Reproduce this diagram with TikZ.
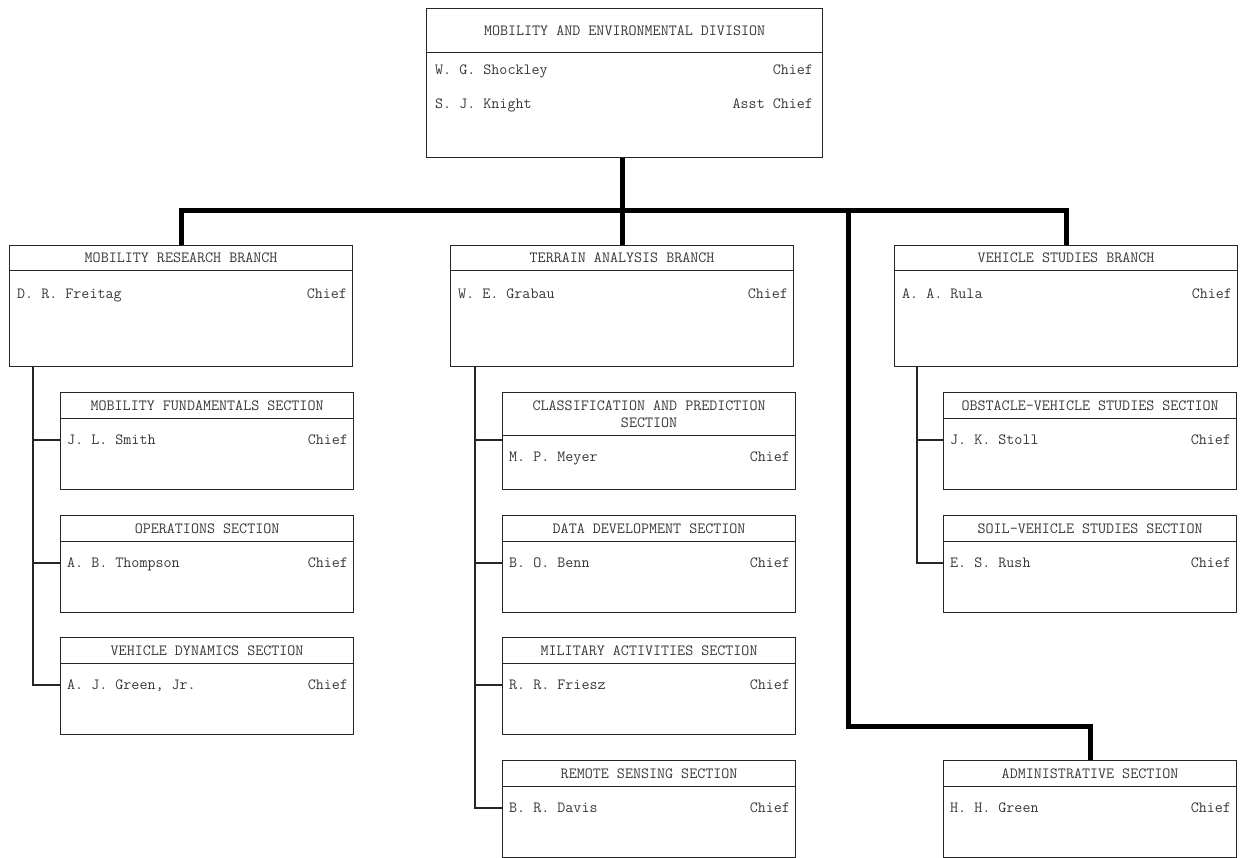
\documentclass[tikz,border=0pt]{standalone}
\usepackage{tikz}
\usetikzlibrary{positioning, calc}

\begin{document}
\begin{tikzpicture}[
  x=1pt, y=-1pt,
  every node/.style={font=\ttfamily\fontsize{15.6}{17}\selectfont, text=black!78},
  frame/.style  ={rectangle, draw=black!85, line width=1.2pt, anchor=north west, inner sep=0pt},
  division/.style={frame, minimum width=396pt, minimum height=149pt},
  branch/.style ={frame, minimum width=343pt, minimum height=121pt},
  section/.style={frame, minimum width=293pt, minimum height=97pt},
  head/.style   ={frame, align=center},
  who/.style    ={anchor=west, inner sep=0pt, text height=9.5pt, text depth=0pt},
  title/.style  ={anchor=east, inner sep=0pt, text height=9.5pt, text depth=0pt},
  link/.style   ={draw=black!85, line width=1.2pt},
  trunk/.style  ={draw=black, line width=5pt, line join=miter}
]
\useasboundingbox (0,0) rectangle (1242,858);

% division
\node[division] (div) at (426,8) {};
\node[head, minimum width=396pt, minimum height=44pt] (div-h) at (div.north west)
  {MOBILITY AND ENVIRONMENTAL DIVISION};
\node[who]   (div-p1) at ([xshift=9pt, yshift=-62pt]div.north west)  {W. G. Shockley};
\node[title] (div-r1) at ([xshift=-10pt,yshift=-62pt]div.north east) {Chief};
\node[who]   (div-p2) at ([xshift=9pt, yshift=-96pt]div.north west)  {S. J. Knight};
\node[title] (div-r2) at ([xshift=-10pt,yshift=-96pt]div.north east) {Asst Chief};

% branches
\foreach \id/\x/\t/\p in {mrb/9/MOBILITY RESEARCH BRANCH/D. R. Freitag,
                          tab/450/TERRAIN ANALYSIS BRANCH/W. E. Grabau,
                          vsb/894/VEHICLE STUDIES BRANCH/A. A. Rula}
{
  \node[branch] (\id) at (\x,245) {};
  \node[head, minimum width=343pt, minimum height=25pt] (\id-h) at (\id.north west) {\t};
  \node[who]   (\id-p) at ([xshift=8pt, yshift=-49pt]\id.north west)  {\p};
  \node[title] (\id-r) at ([xshift=-6pt,yshift=-49pt]\id.north east) {Chief};
}

% sections
\foreach \id/\x/\y/\hh/\t/\p in {
    mf/60/392/26/MOBILITY FUNDAMENTALS SECTION/J. L. Smith,
    op/60/515/26/OPERATIONS SECTION/A. B. Thompson,
    vd/60/637/26/VEHICLE DYNAMICS SECTION/{A. J. Green, Jr.},
    cp/502/392/43/{CLASSIFICATION AND PREDICTION\\SECTION}/M. P. Meyer,
    dd/502/515/26/DATA DEVELOPMENT SECTION/B. O. Benn,
    ma/502/637/26/MILITARY ACTIVITIES SECTION/R. R. Friesz,
    rs/502/760/26/REMOTE SENSING SECTION/B. R. Davis,
    ov/943/392/26/OBSTACLE-VEHICLE STUDIES SECTION/J. K. Stoll,
    sv/943/515/26/SOIL-VEHICLE STUDIES SECTION/E. S. Rush,
    adm/943/760/26/ADMINISTRATIVE SECTION/H. H. Green}
{
  \node[section] (\id) at (\x,\y) {};
  \node[head, minimum width=293pt, minimum height=\hh pt] (\id-h) at (\id.north west) {\t};
  \node[who]   (\id-p) at ([xshift=7pt, yshift={-(\hh+22)*1pt}]\id.north west)  {\p};
  \node[title] (\id-r) at ([xshift=-6pt,yshift={-(\hh+22)*1pt}]\id.north east) {Chief};
}

% heavy lines
\coordinate (bus) at (0,211);
\coordinate (tap) at (848,211);
\draw[trunk] (div.south -| tab.north) -- (tab.north);
\draw[trunk] (mrb.north) |- (vsb.north |- bus) -- (vsb.north);
\draw[trunk] (adm.north) -- ++(0,-34) -| (tap);

% light lines
\foreach \s/\b/\d in {mf/mrb/24, op/mrb/24, vd/mrb/24,
                      cp/tab/25, dd/tab/25, ma/tab/25, rs/tab/25,
                      ov/vsb/23, sv/vsb/23}
  \draw[link] ([yshift=-48pt]\s.north west) -| ([xshift=\d pt]\b.south west);
\end{tikzpicture}
\end{document}
